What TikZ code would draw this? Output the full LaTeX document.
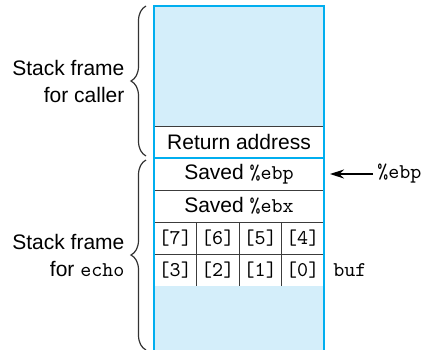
\documentclass[tikz,border=0pt]{standalone}
\usepackage{fontspec}
\setmainfont{Liberation Sans}
\usepackage{tikz}
\usetikzlibrary{arrows.meta,positioning,decorations.pathreplacing}
\definecolor{sfill}{HTML}{D4EEFA}
\definecolor{sline}{HTML}{00AEEF}
\definecolor{cline}{HTML}{3C3C3C}
\newcommand{\reg}[1]{{\ttfamily\%#1}}

\begin{document}
\begin{tikzpicture}[font=\fontsize{10.5}{13.5}\selectfont,
    cell/.style={draw=cline,line width=0.5pt,inner sep=0pt,outer sep=0pt,
                 minimum width=85pt,minimum height=16pt},
    byte/.style={cell,minimum width=21.25pt},
    frame/.style={draw=sline,line width=1pt},
    brace/.style={draw=black!80,line width=0.6pt,decorate,
                  decoration={brace,amplitude=7.5pt}},
    lbl/.style={inner sep=1pt}]
  \useasboundingbox (0,0) rectangle (213.5pt,-174.5pt);
  % stack cells
  \node[cell,fill=sfill,minimum height=60pt,anchor=north west] (caller) at (77pt,-3pt) {};
  \node[cell,below=0pt of caller] (ret) {Return address};
  \node[cell,below=0pt of ret] (ebp) {Saved \reg{ebp}};
  \node[cell,below=0pt of ebp] (ebx) {Saved \reg{ebx}};
  \node[byte,anchor=north west] (b7) at (ebx.south west) {\ttfamily[7]};
  \node[byte,right=0pt of b7] (b6) {\ttfamily[6]};
  \node[byte,right=0pt of b6] (b5) {\ttfamily[5]};
  \node[byte,right=0pt of b5] (b4) {\ttfamily[4]};
  \node[byte,below=0pt of b7] (b3) {\ttfamily[3]};
  \node[byte,right=0pt of b3] (b2) {\ttfamily[2]};
  \node[byte,right=0pt of b2] (b1) {\ttfamily[1]};
  \node[byte,right=0pt of b1] (b0) {\ttfamily[0]};
  \node[fill=sfill,inner sep=0pt,outer sep=0pt,minimum width=85pt,minimum height=32pt,
        anchor=north west] (bot) at (b3.south west) {};
  % blue frame
  \draw[frame] (bot.south west) -- (caller.north west) -- (caller.north east) -- (bot.south east);
  \draw[frame] (ret.south west) -- (ret.south east);
  % braces
  \draw[brace] ([xshift=-4pt,yshift=1pt]ret.south west) -- ([xshift=-4pt]caller.north west)
    node[midway,left=9.5pt,align=right,lbl] (callerlbl) {Stack frame\\for caller};
  \draw[brace] ([xshift=-4pt]bot.south west) -- ([xshift=-4pt,yshift=-1pt]ret.south west)
    node[midway,left=9.5pt,align=right,lbl] (echolbl) {Stack frame\\for \texttt{echo}};
  % pointers
  \node[lbl,right=25.5pt of ebp] (ebpptr) {\reg{ebp}};
  \draw[-{Stealth[length=7pt,width=4.5pt]},line width=0.6pt,shorten >=3pt,shorten <=1pt]
    (ebpptr) -- (ebp);
  \node[lbl,right=3.5pt of b0] (buf) {\ttfamily buf};
\end{tikzpicture}
\end{document}
